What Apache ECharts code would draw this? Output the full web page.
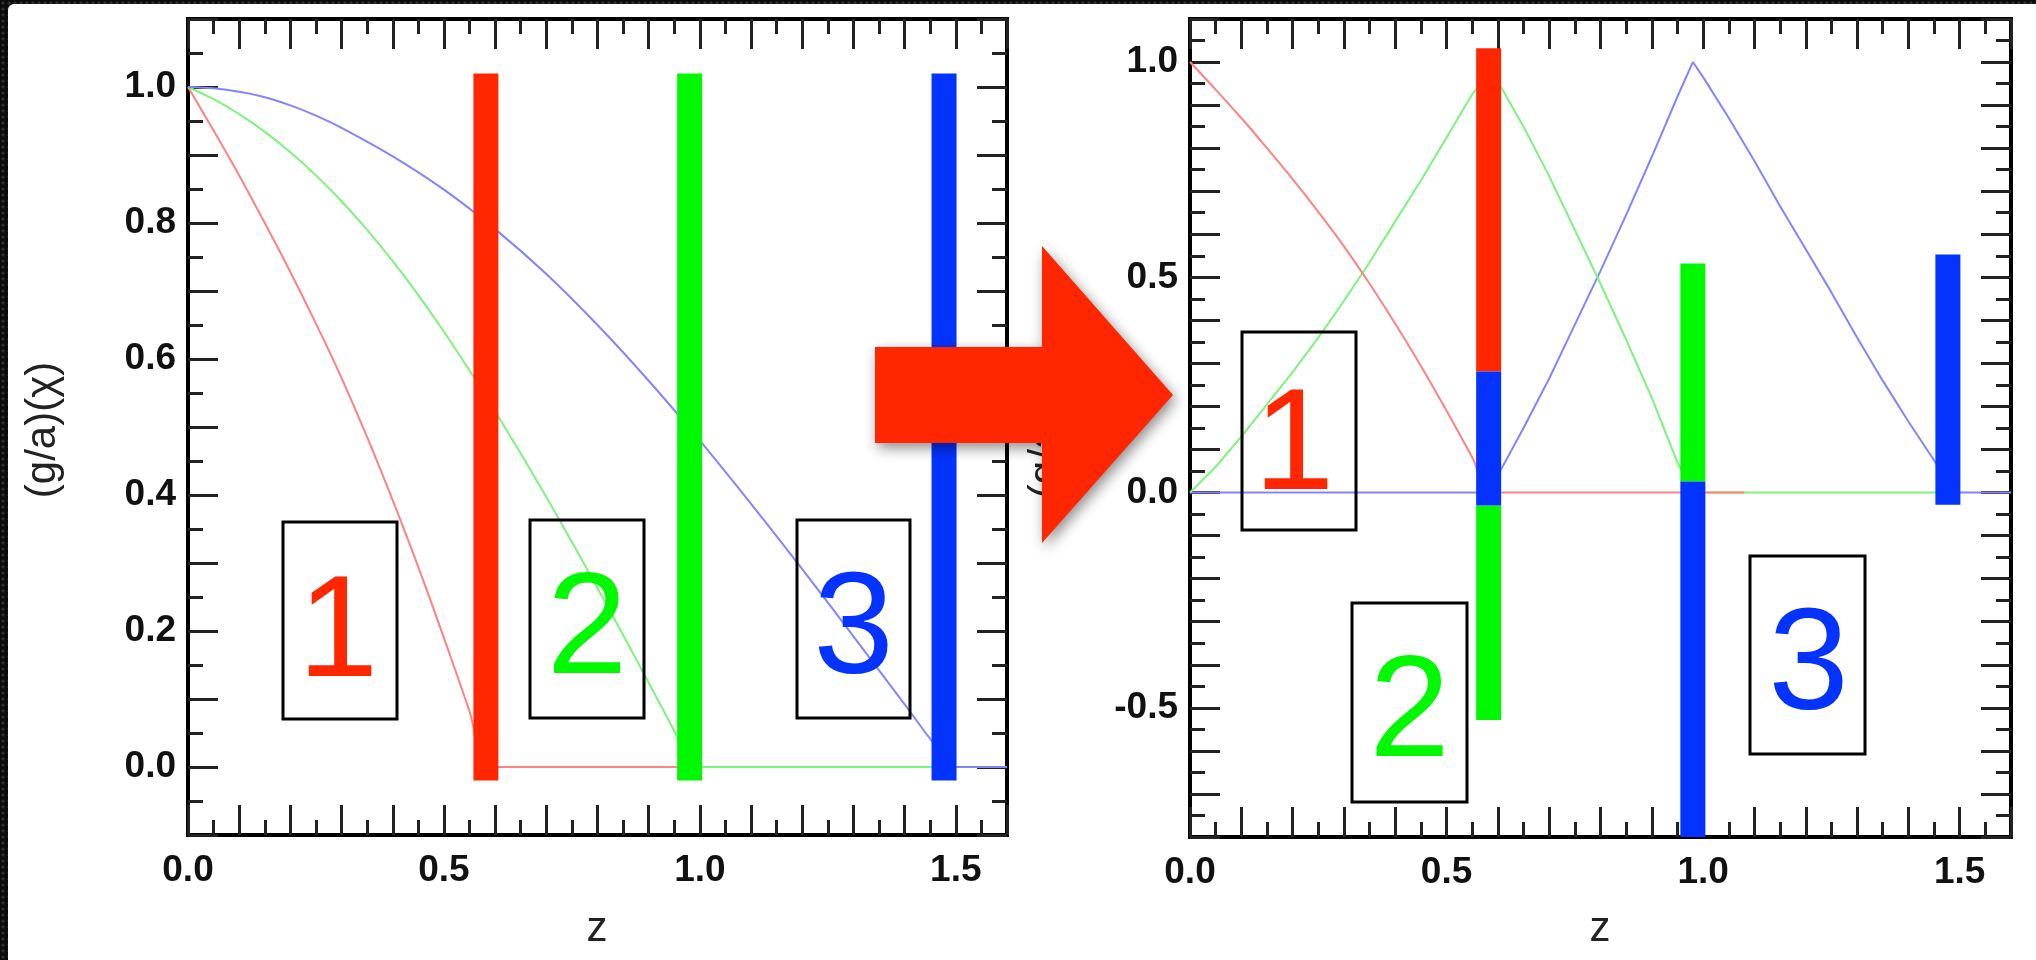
<!DOCTYPE html>
<html>
<head>
<meta charset="utf-8">
<script src="https://cdn.jsdelivr.net/npm/echarts@6/dist/echarts.min.js"></script>
<style>
  html, body { margin: 0; padding: 0; width: 2036px; height: 960px; overflow: hidden; }
  body {
    background-color: #0b0b0b;
    background-image: radial-gradient(circle at 3px 3px, #2e2e2e 0 1.4px, transparent 1.8px);
    background-size: 6px 6px;
  }
  #panel { position: absolute; left: 8px; top: 4px; right: 0; bottom: 0; background: #fff; border-top-left-radius: 6px; }
  #chart { position: absolute; left: 0; top: 0; width: 2036px; height: 960px; }
</style>
</head>
<body>
<div id="panel"></div>
<div id="chart"></div>
<script>
// ---- basis functions g_i(z) before the change of basis (left panel) ----
const curve1 = [[0, 1.0], [0.05, 0.936], [0.1, 0.87], [0.15, 0.80], [0.2, 0.728], [0.25, 0.652],
  [0.3, 0.572], [0.35, 0.485], [0.4, 0.392], [0.45, 0.294], [0.5, 0.19], [0.55, 0.082],
  [0.587, 0], [0.7, 0], [1.08, 0]];
const leftCurve2 = [[0, 1.0], [0.05, 0.982], [0.1, 0.96], [0.15, 0.934], [0.2, 0.904], [0.25, 0.87],
  [0.3, 0.832], [0.35, 0.79], [0.4, 0.744], [0.45, 0.694], [0.5, 0.64], [0.55, 0.583],
  [0.6, 0.523], [0.65, 0.461], [0.7, 0.397], [0.75, 0.331], [0.8, 0.263], [0.85, 0.194],
  [0.9, 0.124], [0.95, 0.053], [0.987, 0], [1.1, 0], [1.5, 0]];
const leftCurve3 = [[0, 1.0], [0.05, 0.998], [0.1, 0.993], [0.15, 0.985], [0.2, 0.973], [0.25, 0.958],
  [0.3, 0.94], [0.4, 0.898], [0.5, 0.849], [0.6, 0.791], [0.7, 0.725], [0.8, 0.65], [0.9, 0.568],
  [1.0, 0.48], [1.1, 0.387], [1.2, 0.291], [1.3, 0.192], [1.4, 0.092], [1.47, 0.022],
  [1.5, 0], [1.55, 0], [1.6, 0]];

// ---- basis functions after the change of basis (right panel) ----
const rightCurve2 = [[0, 0], [0.05, 0.06], [0.1, 0.13], [0.15, 0.205], [0.2, 0.28], [0.25, 0.36],
  [0.3, 0.445], [0.35, 0.535], [0.4, 0.63], [0.45, 0.725], [0.5, 0.825], [0.55, 0.925],
  [0.585, 0.98], [0.6, 0.955], [0.65, 0.85], [0.7, 0.735], [0.75, 0.61], [0.8, 0.485],
  [0.85, 0.355], [0.9, 0.22], [0.95, 0.07], [0.98, 0], [1.5, 0]];
const rightCurve3 = [[0, 0], [0.585, 0], [0.6, 0.04], [0.65, 0.15], [0.7, 0.265], [0.75, 0.39],
  [0.8, 0.515], [0.85, 0.645], [0.9, 0.78], [0.95, 0.92], [0.98, 1.0], [1.0, 0.965],
  [1.05, 0.87], [1.1, 0.77], [1.15, 0.665], [1.2, 0.565], [1.25, 0.465], [1.3, 0.36],
  [1.35, 0.26], [1.4, 0.165], [1.45, 0.075], [1.49, 0], [1.6, 0]];

// ---- node bars: [z, low, high] ----
const leftBars1 = [[0.582, -0.02, 1.02]];
const leftBars2 = [[0.98, -0.02, 1.02]];
const leftBars3 = [[1.477, -0.02, 1.02]];
const rightBars1 = [[0.582, 0.281, 1.032]];
const rightBars2 = [[0.582, -0.528, -0.030], [0.98, 0.026, 0.532]];
const rightBars3 = [[0.582, -0.030, 0.281], [0.98, -0.8, 0.026], [1.477, -0.028, 0.553]];

// ---- axis ranges ----
const zRange = [0, 1.6];
const leftYRange = [-0.1, 1.1];
const rightYRange = [-0.8, 1.1];
const leftYLabelStep = 0.2;
const rightYLabelStep = 0.5;
const zLabelStep = 0.5;

const yTitle = '(g/a)(\u03C7)';
const xTitle = 'z';

const RED = '#ff2600', GREEN = '#00f900', BLUE = '#0433ff';
const RED_LINE = '#ff8282', GREEN_LINE = '#7ef27e', BLUE_LINE = '#8484ff';
const FONT = '"Liberation Sans", Arial, Helvetica, sans-serif';
const TICK = '#222';

function stepLabel(step) {
  return function (v) {
    const r = Math.round(v * 1000) / 1000;
    const k = r / step;
    return Math.abs(k - Math.round(k)) < 1e-6 ? r.toFixed(1) : '';
  };
}

function valueAxis(gridIndex, position, range, labelStep, isX) {
  const showLabel = labelStep != null;
  return {
    type: 'value', gridIndex, position,
    min: range[0], max: range[1], interval: 0.1,
    axisLine: { show: false, onZero: false },
    splitLine: { show: false },
    axisTick: { show: true, inside: true, length: 30, lineStyle: { color: TICK, width: 3 } },
    minorTick: { show: true, splitNumber: 2, length: 15, lineStyle: { color: TICK, width: 3 } },
    axisLabel: showLabel ? {
      show: true, margin: isX ? 17 : 12, formatter: stepLabel(labelStep),
      color: '#111', fontSize: 37, fontWeight: 'bold', fontFamily: FONT
    } : { show: false }
  };
}

function curveSeries(axisIdx, color, data, smooth) {
  return {
    type: 'line', xAxisIndex: axisIdx, yAxisIndex: axisIdx, data,
    symbol: 'none', showSymbol: false, silent: true, clip: true, z: 2,
    smooth: smooth ? 0.3 : false,
    lineStyle: { color, width: 2 }, itemStyle: { color }
  };
}

function barSeries(axisIdx, color, data) {
  return {
    type: 'custom', xAxisIndex: axisIdx, yAxisIndex: axisIdx, data, z: 5, clip: true, silent: true,
    encode: { x: 0, y: [1, 2] },
    renderItem: function (params, api) {
      const z = api.value(0);
      const top = api.coord([z, api.value(2)]);
      const bot = api.coord([z, api.value(1)]);
      const w = 25;
      return {
        type: 'rect',
        shape: { x: top[0] - w / 2, y: top[1], width: w, height: bot[1] - top[1] },
        style: { fill: color }
      };
    }
  };
}

function numberBox(x, y, w, h, digit, color, dx, dy) {
  return [
    { type: 'rect', z: 50, silent: true, shape: { x, y, width: w, height: h },
      style: { fill: 'none', stroke: '#000', lineWidth: 3 } },
    { type: 'text', z: 51, silent: true, x: x + w / 2 + dx, y: y + h / 2 + dy,
      style: { text: digit, fill: color, font: '145px ' + FONT, align: 'center', verticalAlign: 'middle',
        shadowColor: 'rgba(0,0,0,0.45)', shadowBlur: 9, shadowOffsetX: 8, shadowOffsetY: 9 } }
  ];
}

function titleText(x, y, text, rotate) {
  return { type: 'text', z: 40, silent: true, x, y, rotation: rotate ? Math.PI / 2 : 0,
    style: { text, fill: '#222', font: '42px ' + FONT, align: 'center', verticalAlign: 'middle' } };
}

const chart = echarts.init(document.getElementById('chart'), null, { renderer: 'canvas' });

const option = {
  backgroundColor: 'transparent',
  animation: false,
  grid: [
    { left: 188, top: 19, width: 819, height: 816, show: true, borderColor: '#000', borderWidth: 4, outerBoundsMode: 'none' },
    { left: 1190, top: 19, width: 821, height: 818, show: true, borderColor: '#000', borderWidth: 4, outerBoundsMode: 'none' }
  ],
  xAxis: [
    valueAxis(0, 'bottom', zRange, zLabelStep, true),
    valueAxis(0, 'top', zRange, null, true),
    valueAxis(1, 'bottom', zRange, zLabelStep, true),
    valueAxis(1, 'top', zRange, null, true)
  ],
  yAxis: [
    valueAxis(0, 'left', leftYRange, leftYLabelStep, false),
    valueAxis(0, 'right', leftYRange, null, false),
    valueAxis(1, 'left', rightYRange, rightYLabelStep, false),
    valueAxis(1, 'right', rightYRange, null, false)
  ],
  series: [
    curveSeries(0, RED_LINE, curve1, true),
    curveSeries(0, GREEN_LINE, leftCurve2, true),
    curveSeries(0, BLUE_LINE, leftCurve3, true),
    barSeries(0, RED, leftBars1),
    barSeries(0, GREEN, leftBars2),
    barSeries(0, BLUE, leftBars3),
    curveSeries(2, BLUE_LINE, rightCurve3, false),
    curveSeries(2, GREEN_LINE, rightCurve2, false),
    curveSeries(2, RED_LINE, curve1, true),
    barSeries(2, RED, rightBars1),
    barSeries(2, GREEN, rightBars2),
    barSeries(2, BLUE, rightBars3)
  ],
  graphic: {
    elements: [
      titleText(43, 430, yTitle, true),
      titleText(1046, 430, yTitle, true),
      titleText(597, 929, xTitle, false),
      titleText(1600, 929, xTitle, false),
      ...numberBox(283, 522, 114, 197, '1', RED, -2, 16),
      ...numberBox(530, 520, 114, 198, '2', GREEN, 0, 14),
      ...numberBox(797, 520, 113, 198, '3', BLUE, 0, 14),
      ...numberBox(1242, 332, 114, 198, '1', RED, -5, 18),
      ...numberBox(1352, 603, 115, 199, '2', GREEN, 0, 14),
      ...numberBox(1750, 556, 115, 198, '3', BLUE, 1, 14),
      { type: 'polygon', z: 100, silent: true,
        shape: { points: [[875, 347], [1042, 347], [1042, 246], [1173, 395], [1042, 543], [1042, 443], [875, 443]] },
        style: { fill: RED, shadowColor: 'rgba(0,0,0,0.45)', shadowBlur: 14, shadowOffsetX: 3, shadowOffsetY: 5 } }
    ]
  }
};

chart.setOption(option);
</script>
</body>
</html>
